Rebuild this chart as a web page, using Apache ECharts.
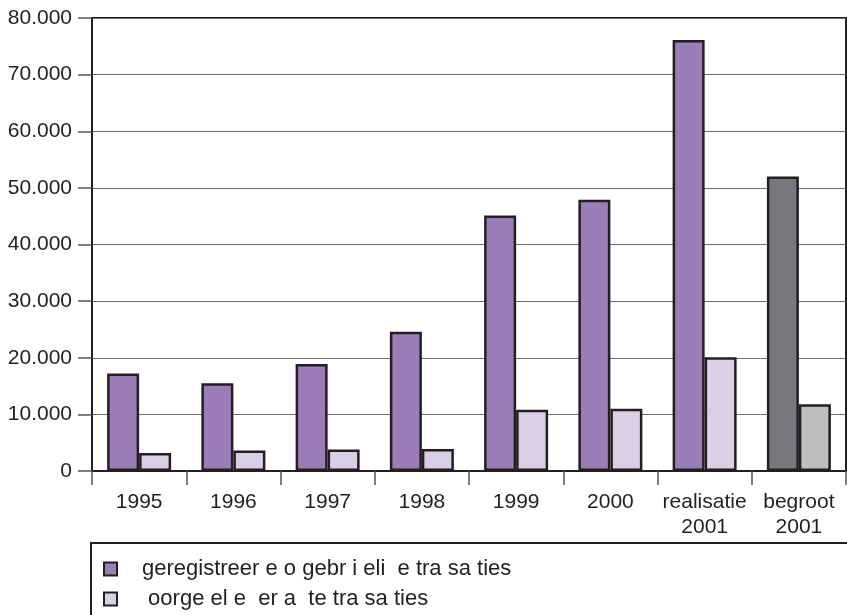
<!DOCTYPE html>
<html>
<head>
<meta charset="utf-8">
<script src="https://cdn.jsdelivr.net/npm/echarts@6/dist/echarts.min.js"></script>
<style>
  html, body { margin: 0; padding: 0; background: #fff; }
  #chart { width: 847px; height: 615px; }
</style>
</head>
<body>
<div id="chart"></div>
<script>
// categories along the x axis
const categories = ["1995", "1996", "1997", "1998", "1999", "2000", "realisatie\n2001", "begroot\n2001"];
// registered transactions (dark bars)
const registered = [17200, 15500, 18900, 24600, 45100, 47900, 76100, 52000];
// second series (light bars)
const other = [3200, 3600, 3800, 3900, 10800, 11000, 20100, 11800];
const seriesNames = [
  "geregistreer e o gebr i eli  e tra sa ties",
  " oorge el e  er a  te tra sa ties"
];
const yTicks = [0, 10000, 20000, 30000, 40000, 50000, 60000, 70000, 80000];

const ink = "#231f20";
const font = "Liberation Sans";
const lastIdx = categories.length - 1;

const chart = echarts.init(document.getElementById("chart"));

// one legend block per row so both rows stay stacked under the plot
const legendRow = (name, top) => ({
  left: 103, top: top,
  padding: 0,
  itemWidth: 13, itemHeight: 13,
  icon: "rect",
  selectedMode: false,
  textStyle: { fontSize: 22, lineHeight: 26, color: ink, padding: [0, 0, 0, 20], fontFamily: font },
  data: [name]
});

const option = {
  animation: false,
  backgroundColor: "#fff",
  textStyle: { fontFamily: font },
  grid: {
    left: 92, right: 1, top: 18, bottom: 144,
    show: true, borderColor: ink, borderWidth: 2
  },
  legend: [legendRow(seriesNames[0], 556), legendRow(seriesNames[1], 586)],
  graphic: [
    {
      type: "rect",
      shape: { x: 91, y: 543, width: 800, height: 120 },
      style: { fill: "none", stroke: ink, lineWidth: 2 },
      z: -1
    }
  ],
  xAxis: {
    type: "category",
    data: categories,
    axisLine: { lineStyle: { color: ink, width: 2 } },
    axisTick: { show: true, length: 14, lineStyle: { color: "#555", width: 1.5 } },
    axisLabel: { color: ink, fontSize: 21, lineHeight: 25, margin: 19, interval: 0 }
  },
  yAxis: {
    type: "value",
    min: 0, max: yTicks[yTicks.length - 1], interval: yTicks[1] - yTicks[0],
    axisLine: { show: true, lineStyle: { color: ink, width: 2 } },
    axisTick: { show: true, length: 14, lineStyle: { color: "#555", width: 1.5 } },
    splitLine: { lineStyle: { color: "#6d6d6d", width: 1 } },
    axisLabel: {
      color: ink, fontSize: 21, margin: 20,
      formatter: v => v === 0 ? "0" : (v / 1000) + ".000"
    }
  },
  series: [
    {
      name: seriesNames[0],
      type: "bar",
      barWidth: 32,
      barGap: "0%",
      itemStyle: { color: "#9b7eb8", borderColor: ink, borderWidth: 2.5 },
      data: registered.map((v, i) => i === lastIdx
        ? { value: v, itemStyle: { color: "#77787b" } }
        : v)
    },
    {
      name: seriesNames[1],
      type: "bar",
      barWidth: 32,
      barGap: "0%",
      itemStyle: { color: "#d9d0e5", borderColor: ink, borderWidth: 2.5 },
      data: other.map((v, i) => i === lastIdx
        ? { value: v, itemStyle: { color: "#bcbec0" } }
        : v)
    }
  ]
};

chart.setOption(option);
</script>
</body>
</html>
